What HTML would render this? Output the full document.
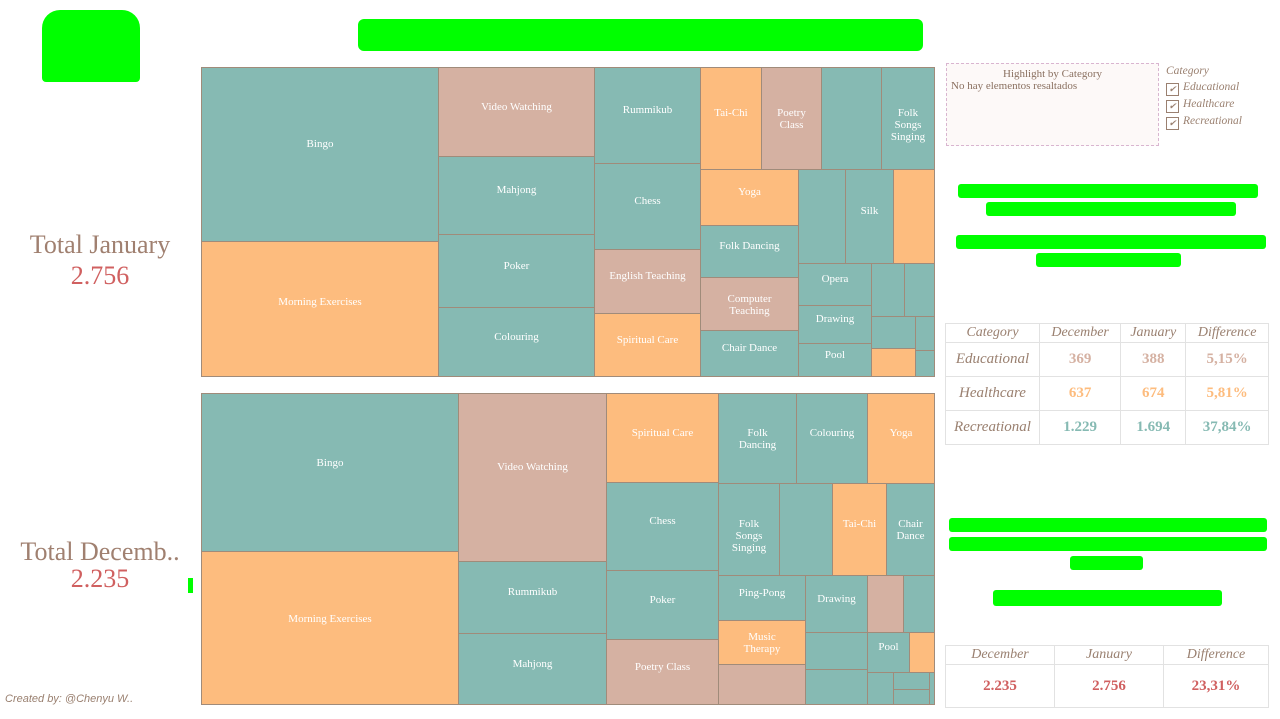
<!DOCTYPE html>
<html><head><meta charset="utf-8">
<style>
body{margin:0;width:1280px;height:719px;background:#fff;position:relative;overflow:hidden;font-family:"Liberation Serif",serif}
.abs{position:absolute}
.tile{position:absolute;box-sizing:border-box;border:1px solid #a08b7a;display:flex;align-items:flex-start;justify-content:center;color:#fff;font-size:11px;text-align:center;line-height:12px;overflow:hidden}
.green{position:absolute;color:#00ff00;font-family:"Liberation Sans",sans-serif;font-weight:bold;text-align:center;white-space:nowrap;overflow:hidden}
table{border-collapse:collapse;position:absolute;font-family:"Liberation Serif",serif}
td,th{border:1px solid #e2e2e2;text-align:center;padding:0}
th{font-weight:normal;font-style:italic;color:#9a8070;font-size:14px}
</style></head><body>
<div class="green" style="left:42px;top:10px;width:98px;height:72px;background:#00ff00;border-radius:18px 18px 4px 4px;color:#00ff00">logo</div>
<div class="green" style="left:358px;top:19px;width:565px;height:32px;font-size:27px;line-height:32px;background:#00ff00;border-radius:6px">How many activities in January?</div>

<div class="abs" style="left:0;top:230px;width:200px;text-align:center;font-size:26px;color:#a08070">Total January</div>
<div class="abs" style="left:0;top:261px;width:200px;text-align:center;font-size:26px;color:#d06060">2.756</div>
<div class="abs" style="left:0;top:537px;width:200px;text-align:center;font-size:26px;color:#a08070">Total Decemb..</div>
<div class="abs" style="left:0;top:564px;width:200px;text-align:center;font-size:26px;color:#d06060">2.235</div>
<div class="abs" style="left:188px;top:578px;width:5px;height:15px;background:#00ff00"></div>
<div class="abs" style="left:5px;top:693px;font-size:11px;font-style:italic;color:#9a8070;font-family:'Liberation Sans',sans-serif">Created by: @Chenyu W..</div>

<div id="tmJan"></div>
<div id="tmDec"></div>

<div class="abs" style="left:946px;top:63px;width:211px;height:81px;border:1px dashed #d9b5d0;background:#fdf9f8;font-size:11px;color:#8a7060">
<div style="text-align:center;margin-top:4px">Highlight by Category</div>
<div style="margin-left:4px">No hay elementos resaltados</div></div>
<div class="abs" style="left:1166px;top:63px;font-size:11.5px;font-style:italic;color:#9a8070;line-height:16px">
<div>Category</div>
<div><span style="display:inline-block;width:11px;height:11px;border:1px solid #9a8070;font-size:9px;line-height:11px;text-align:center;vertical-align:-2px;margin-right:4px">✔</span>Educational</div>
<div><span style="display:inline-block;width:11px;height:11px;border:1px solid #9a8070;font-size:9px;line-height:11px;text-align:center;vertical-align:-2px;margin-right:4px">✔</span>Healthcare</div>
<div><span style="display:inline-block;width:11px;height:11px;border:1px solid #9a8070;font-size:9px;line-height:11px;text-align:center;vertical-align:-2px;margin-right:4px">✔</span>Recreational</div>
</div>

<div class="green" style="left:958px;top:184px;width:300px;height:14px;background:#00ff00;border-radius:3px;font-size:11px"></div>
<div class="green" style="left:986px;top:202px;width:250px;height:14px;background:#00ff00;border-radius:3px;font-size:11px"></div>
<div class="green" style="left:956px;top:235px;width:310px;height:14px;background:#00ff00;border-radius:3px;font-size:11px"></div>
<div class="green" style="left:1036px;top:253px;width:145px;height:14px;background:#00ff00;border-radius:3px;font-size:11px"></div>
<div class="green" style="left:949px;top:518px;width:318px;height:14px;background:#00ff00;border-radius:3px"></div>
<div class="green" style="left:949px;top:537px;width:318px;height:14px;background:#00ff00;border-radius:3px"></div>
<div class="green" style="left:1070px;top:556px;width:73px;height:14px;background:#00ff00;border-radius:3px"></div>
<div class="green" style="left:993px;top:590px;width:229px;height:16px;background:#00ff00;border-radius:3px"></div>

<table id="catTable" style="left:945px;top:323px;width:324px"></table>
<table id="totTable" style="left:945px;top:645px;width:324px"></table>

<script>
const colors={R:"#86bab3",H:"#fdbc7e",E:"#d5b1a2"};
const janLabels=["Bingo","Morning Exercises","Video Watching","Mahjong","Poker","Colouring","Rummikub","Chess","English Teaching","Spiritual Care","Tai-Chi","Poetry<br>Class","","Folk<br>Songs<br>Singing","Yoga","Folk Dancing","Computer<br>Teaching","Chair Dance","","Silk","","Opera","Drawing","Pool","","","","","",""];
const janCats=["R","H","E","R","R","R","R","R","E","H","H","E","R","R","H","R","E","R","R","R","H","R","R","R","R","R","R","R","H","R"];
const janRects=[[201,67,438,241],[201,241,438,376],[438,67,594,156],[438,156,594,234],[438,234,594,307],[438,307,594,376],[594,67,700,163],[594,163,700,249],[594,249,700,313],[594,313,700,376],[700,67,761,169],[761,67,821,169],[821,67,881,169],[881,67,934,169],[700,169,798,225],[700,225,798,277],[700,277,798,330],[700,330,798,376],[798,169,845,263],[845,169,893,263],[893,169,934,263],[798,263,871,305],[798,305,871,343],[798,343,871,376],[871,263,904,316],[904,263,934,316],[871,316,915,348],[915,316,934,350],[871,348,915,376],[915,350,934,376]];
const decLabels=["Bingo","Morning Exercises","Video Watching","Rummikub","Mahjong","Spiritual Care","Chess","Poker","Poetry Class","Folk<br>Dancing","Colouring","Yoga","Folk<br>Songs<br>Singing","","Tai-Chi","Chair<br>Dance","Ping-Pong","Music<br>Therapy","","Drawing","","","","","Pool","","","","",""];
const decCats=["R","H","E","R","R","H","R","R","E","R","R","H","R","R","H","R","R","H","E","R","R","R","E","R","R","H","R","R","R","R"];
const decRects=[[201,393,458,551],[201,551,458,704],[458,393,606,561],[458,561,606,633],[458,633,606,704],[606,393,718,482],[606,482,718,570],[606,570,718,639],[606,639,718,704],[718,393,796,483],[796,393,867,483],[867,393,934,483],[718,483,779,575],[779,483,832,575],[832,483,886,575],[886,483,934,575],[718,575,805,620],[718,620,805,664],[718,664,805,704],[805,575,867,632],[805,632,867,669],[805,669,867,704],[867,575,903,632],[903,575,934,632],[867,632,909,672],[909,632,934,672],[867,672,893,704],[893,672,929,689],[893,689,929,704],[929,672,934,704]];
function drawTM(id,labels,cats,rects){
  const host=document.getElementById(id);
  rects.forEach((r,i)=>{
    const d=document.createElement('div');
    d.className='tile';
    
    
    const w=r[2]-r[0],h=r[3]-r[1];
    d.style.cssText=`left:${r[0]}px;top:${r[1]}px;width:${w+1}px;height:${h+1}px;background:${colors[cats[i]]};padding-top:${Math.min(h*0.4,Math.max(4,h/2-12))}px`;
    d.innerHTML=labels[i];
    host.appendChild(d);
  });
}
drawTM('tmJan',janLabels,janCats,janRects);
drawTM('tmDec',decLabels,decCats,decRects);

const tCats=["Educational","Healthcare","Recreational"];
const tDec=["369","637","1.229"];
const tJan=["388","674","1.694"];
const tDiff=["5,15%","5,81%","37,84%"];
const tColors=["#d5b1a2","#fdbc7e","#86bab3"];
let h='<tr style="height:19px"><th style="width:93px">Category</th><th>December</th><th>January</th><th>Difference</th></tr>';
tCats.forEach((c,i)=>{h+=`<tr style="height:34px"><td style="font-style:italic;color:#9a8070;font-size:15px">${c}</td><td style="color:${tColors[i]};font-weight:bold;font-size:15px">${tDec[i]}</td><td style="color:${tColors[i]};font-weight:bold;font-size:15px">${tJan[i]}</td><td style="color:${tColors[i]};font-weight:bold;font-size:15px">${tDiff[i]}</td></tr>`});
document.getElementById('catTable').innerHTML=h;
const totDec="2.235",totJan="2.756",totDiff="23,31%";
document.getElementById('totTable').innerHTML=`<tr style="height:19px"><th style="width:108px">December</th><th style="width:108px">January</th><th>Difference</th></tr><tr style="height:43px"><td style="color:#d06060;font-weight:bold;font-size:15px">${totDec}</td><td style="color:#d06060;font-weight:bold;font-size:15px">${totJan}</td><td style="color:#d06060;font-weight:bold;font-size:15px">${totDiff}</td></tr>`;
</script>
</body></html>
